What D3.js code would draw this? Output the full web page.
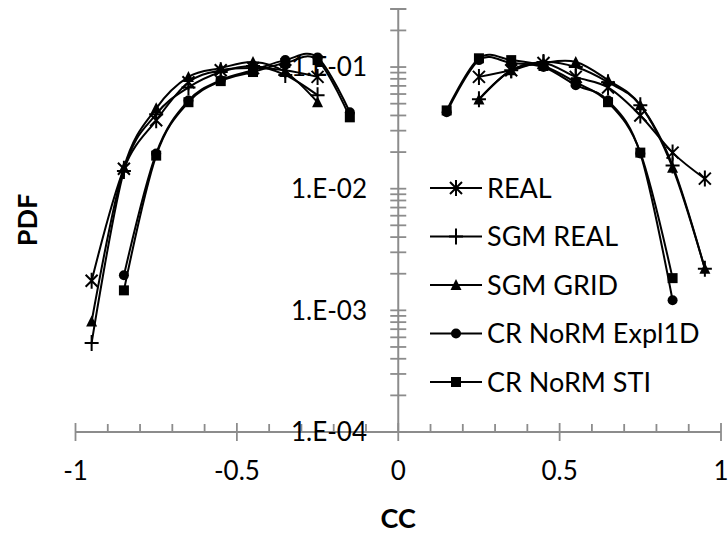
<!DOCTYPE html>
<html><head><meta charset="utf-8">
<script src="https://cdn.jsdelivr.net/npm/d3@7"></script>
<style>body{margin:0;background:#fff}svg{display:block}text{font-family:Lato,"Open Sans",sans-serif;fill:#000}</style>
</head><body><svg id="c" width="728" height="540"></svg>
<script>
const xValues = [-0.95,-0.85,-0.75,-0.65,-0.55,-0.45,-0.35,-0.25,-0.15, 0.15,0.25,0.35,0.45,0.55,0.65,0.75,0.85,0.95];
const seriesNames = ["REAL","SGM REAL","SGM GRID","CR NoRM Expl1D","CR NoRM STI"];
const markerTypes = ["star","plus","triangle","circle","square"];
const real      = [0.00175,0.0146,0.0365,0.075,0.094,0.098,0.094,0.083,null,   null,0.083,0.094,0.108,0.083,0.068,0.040,0.0198,0.0121];
const sgmReal   = [0.00054,0.014,0.041,0.068,0.091,0.102,0.086,0.0587,null,     null,0.0544,0.094,0.11,0.1,0.075,0.0486,0.0155,0.0022];
const sgmGrid   = [0.00081,0.0149,0.0458,0.083,0.098,0.11,0.091,0.0514,null,    null,0.054,0.094,0.108,0.11,0.078,0.0486,0.0149,0.0022];
const crExpl1D  = [null,0.00194,0.0195,0.053,0.078,0.094,0.114,0.12,0.0425,    0.0425,0.114,0.108,0.1,0.071,0.053,0.0195,0.00121,null];
const crSTI     = [null,0.00146,0.0187,0.0514,0.0766,0.091,0.108,0.114,0.0386, 0.044,0.118,0.114,0.102,0.075,0.0514,0.0198,0.00184,null];
const seriesValues = [real,sgmReal,sgmGrid,crExpl1D,crSTI];
const xTicks = [-1,-0.5,0,0.5,1];
const xTickLabels = ["-1","-0.5","0","0.5","1"];
const yTicks = [1e-4,1e-3,1e-2,1e-1];
const yTickLabels = ["1.E-04","1.E-03","1.E-02","1.E-01"];
const xTitle = "CC", yTitle = "PDF";

const svg = d3.select("#c");
const x = d3.scaleLinear().domain([-1,1]).range([75.5,721]);
const y = d3.scaleLog().domain([1e-4,0.3]).range([432,9]);
const axisCol = "#8c8c8c";
const gA = svg.append("g");
const y0 = y(1e-4), x0 = x(0);
gA.append("line").attr("x1",x(-1)).attr("x2",x(1)).attr("y1",y0).attr("y2",y0).attr("stroke",axisCol).attr("stroke-width",2);
const xMinor = d3.range(-10,11).map(d=>d/10);
xMinor.forEach(v=>{
  const major = Math.abs(v*2-Math.round(v*2))<1e-9;
  gA.append("line").attr("x1",x(v)).attr("x2",x(v))
    .attr("y1",major? y0-9 : y0-8).attr("y2",major? y0+9 : y0)
    .attr("stroke",axisCol).attr("stroke-width",1.8);
});
gA.append("line").attr("x1",x0).attr("x2",x0).attr("y1",y(0.3)).attr("y2",y0).attr("stroke",axisCol).attr("stroke-width",2);
const yMinor = [];
[1e-4,1e-3,1e-2,1e-1].forEach(d=>{for(let k=1;k<=9;k++){const v=d*k; if(v<=0.3000001) yMinor.push(v);}});
yMinor.push(0.3);
yMinor.forEach(v=>{
  gA.append("line").attr("x1",x0-8).attr("x2",x0+8).attr("y1",y(v)).attr("y2",y(v))
    .attr("stroke",axisCol).attr("stroke-width",1.8);
});
xTicks.forEach((v,i)=>{
  svg.append("text").attr("x",x(v)).attr("y",480).attr("text-anchor","middle")
    .attr("font-size",26).text(xTickLabels[i]);
});
yTicks.forEach((v,i)=>{
  svg.append("text").attr("x",367).attr("y",y(v)).attr("dy","0.36em").attr("text-anchor","end")
    .attr("font-size",26).text(yTickLabels[i]);
});
svg.append("text").attr("x",x0).attr("y",528).attr("text-anchor","middle").attr("font-size",27).attr("font-weight","bold").text(xTitle);
svg.append("text").attr("transform","translate(37,220) rotate(-90)").attr("text-anchor","middle").attr("font-size",27).attr("font-weight","bold").text(yTitle);

function marker(g, type, cx, cy){
  if(type==="star"){
    g.append("path").attr("d",`M${cx-6},${cy-6}L${cx+6},${cy+6}M${cx-6},${cy+6}L${cx+6},${cy-6}M${cx},${cy-8}L${cx},${cy+8}`)
     .attr("stroke","#000").attr("stroke-width",2).attr("fill","none");
  } else if(type==="plus"){
    g.append("path").attr("d",`M${cx-7},${cy}L${cx+7},${cy}M${cx},${cy-8}L${cx},${cy+8}`)
     .attr("stroke","#000").attr("stroke-width",2).attr("fill","none");
  } else if(type==="triangle"){
    g.append("path").attr("d",`M${cx},${cy-6}L${cx+5.5},${cy+5}L${cx-5.5},${cy+5}Z`).attr("fill","#000");
  } else if(type==="circle"){
    g.append("circle").attr("cx",cx).attr("cy",cy).attr("r",5).attr("fill","#000");
  } else {
    g.append("rect").attr("x",cx-5).attr("y",cy-5).attr("width",10).attr("height",10).attr("fill","#000");
  }
}
const line = d3.line().defined(d=>d.v!=null).x(d=>x(d.x)).y(d=>y(d.v)).curve(d3.curveCatmullRom.alpha(0));
seriesValues.forEach((vals,si)=>{
  const g = svg.append("g");
  const pts = xValues.map((xv,i)=>({x:xv,v:vals[i]}));
  [pts.filter(p=>p.x<0), pts.filter(p=>p.x>0)].forEach(seg=>{
    g.append("path").datum(seg).attr("d",line).attr("fill","none").attr("stroke","#000").attr("stroke-width",2);
  });
  pts.filter(p=>p.v!=null).forEach(p=>marker(g,markerTypes[si],x(p.x),y(p.v)));
});
const lg = svg.append("g");
seriesNames.forEach((n,i)=>{
  const ly = 188 + i*48.5;
  lg.append("line").attr("x1",430).attr("x2",482).attr("y1",ly).attr("y2",ly).attr("stroke","#000").attr("stroke-width",2);
  marker(lg, markerTypes[i], 456, ly);
  lg.append("text").attr("x",487).attr("y",ly).attr("dy","0.36em").attr("font-size",27).text(n);
});
</script></body></html>
